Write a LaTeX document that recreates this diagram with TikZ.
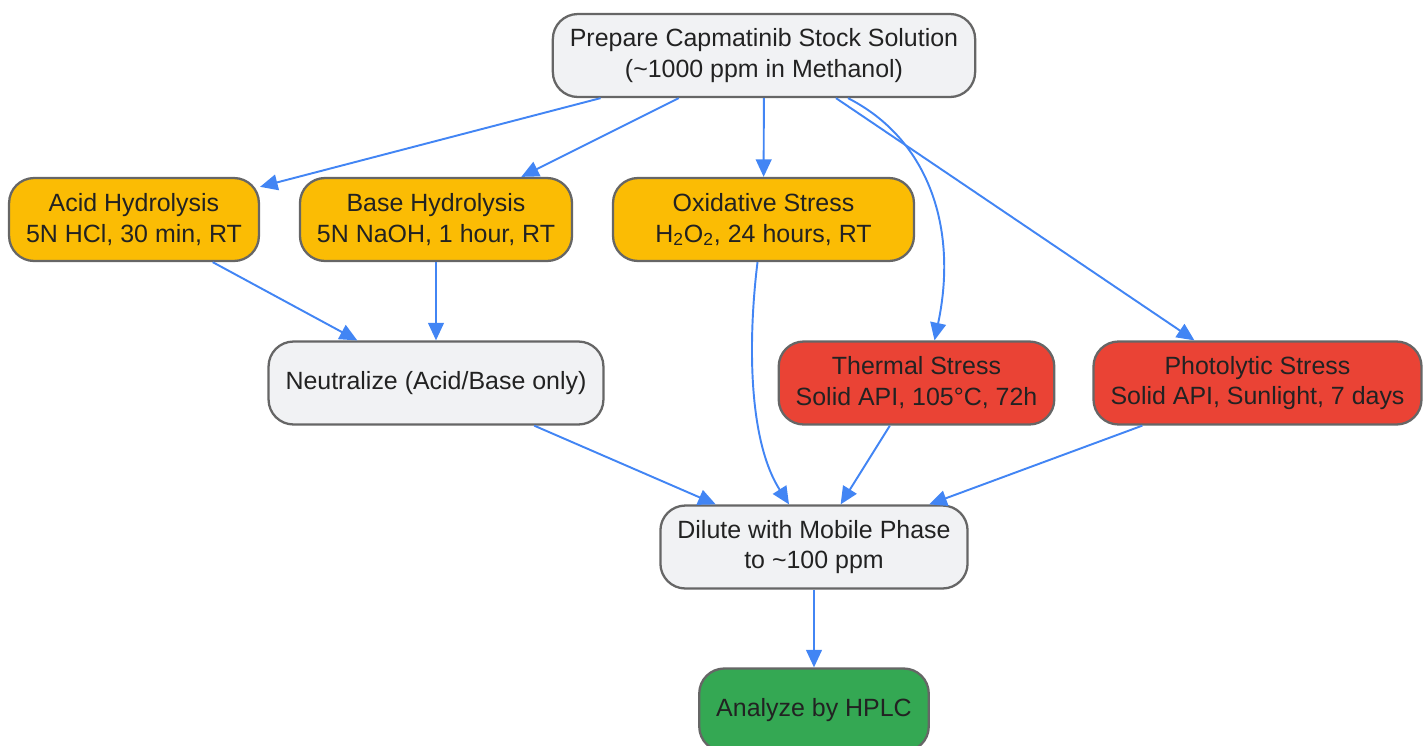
\documentclass[tikz,border=0pt]{standalone}
\usepackage{fontspec}
\setmainfont{Liberation Sans}
\usetikzlibrary{arrows.meta,calc}
\definecolor{boxgrey}{HTML}{F1F2F4}
\definecolor{boxline}{HTML}{666666}
\definecolor{stressyellow}{HTML}{FBBC04}
\definecolor{stressred}{HTML}{EA4335}
\definecolor{hplcgreen}{HTML}{34A853}
\definecolor{flowblue}{HTML}{4285F4}
\definecolor{txtdark}{HTML}{222222}
\begin{document}
\begin{tikzpicture}[x=0.02cm,y=-0.02cm,>={Triangle[length=10pt,width=9pt]},line join=round,
	font=\fontsize{14.2}{17.6}\selectfont,
	box/.style={draw=boxline,line width=1.3pt,rounded corners=0.5cm,align=center,text=txtdark,minimum height=1.66cm,inner xsep=0.34cm},
	greybox/.style={box,fill=boxgrey},
	yellowbox/.style={box,fill=stressyellow},
	redbox/.style={box,fill=stressred},
	greenbox/.style={box,fill=hplcgreen},
	flow/.style={->,draw=flowblue,line width=1.1pt}]
	\useasboundingbox (0,0) rectangle (1428,745);
	%Dung dich goc
	\node[greybox] (stock) at (764,55.5) {Prepare Capmatinib Stock Solution\\(\textasciitilde 1000 ppm in Methanol)};
	%Cac dieu kien
	\node[yellowbox] (acid) at (134,219.5) {Acid Hydrolysis\\5N HCl, 30 min, RT};
	\node[yellowbox] (base) at (436,219.5) {Base Hydrolysis\\5N NaOH, 1 hour, RT};
	\node[yellowbox,minimum width=6.02cm] (oxid) at (763.5,219.5) {Oxidative Stress\\H\textsubscript{2}O\textsubscript{2}, 24 hours, RT};
	\node[greybox] (neutral) at (436,383) {Neutralize (Acid/Base only)};
	\node[redbox] (thermal) at (916.5,383) {Thermal Stress\\Solid API, 105°C, 72h};
	\node[redbox] (photo) at (1257.5,383) {Photolytic Stress\\Solid API, Sunlight, 7 days};
	%Pha loang va phan tich
	\node[greybox] (dilute) at (814,547) {Dilute with Mobile Phase\\to \textasciitilde 100 ppm};
	\node[greenbox] (hplc) at (814,710) {Analyze by HPLC};
	%Mui ten
	\draw[flow] (stock)--(acid);
	\draw[flow] (stock)--(base);
	\draw[flow] (stock)--(oxid);
	\draw[flow] ($(stock.south)+(84,0)$) .. controls (930,140) and (958,230) .. ($(thermal.north)+(18,0)$);
	\draw[flow] ($(stock.south)+(72,0)$)--(photo);
	\draw[flow] (acid)--(neutral);
	\draw[flow] (base)--(neutral);
	\draw[flow] ($(oxid.south)+(-6,0)$) .. controls (748,340) and (748,440) .. ($(dilute.north)+(-25,0)$);
	\draw[flow] (neutral)--(dilute);
	\draw[flow] (thermal)--(dilute);
	\draw[flow] (photo)--(dilute);
	\draw[flow] (dilute)--(hplc);
\end{tikzpicture}
\end{document}
